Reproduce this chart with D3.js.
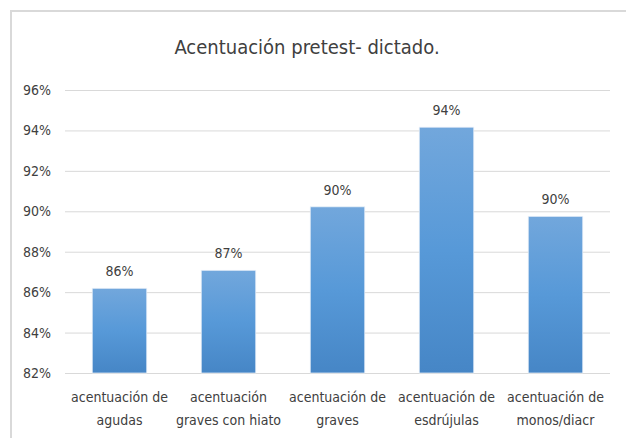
<!DOCTYPE html>
<html>
<head>
<meta charset="utf-8">
<script src="https://cdn.jsdelivr.net/npm/d3@7"></script>
<style>
  body { margin: 0; background: #fff; }
  svg text { font-family: "Liberation Sans Narrow", "DejaVu Sans Condensed", "Noto Sans", sans-serif; fill: #404040; }
</style>
</head>
<body>
<svg id="chart" width="626" height="438"></svg>
<script>
const categories = [
  ["acentuación de", "agudas"],
  ["acentuación", "graves con hiato"],
  ["acentuación de", "graves"],
  ["acentuación de", "esdrújulas"],
  ["acentuación de", "monos/diacr"]
];
const values = [0.8619, 0.8708, 0.9022, 0.9416, 0.8975];
const valueLabels = ["86%", "87%", "90%", "94%", "90%"];
const yTicks = [0.82, 0.84, 0.86, 0.88, 0.90, 0.92, 0.94, 0.96];
const title = "Acentuación pretest- dictado.";

const svg = d3.select("#chart");
const margin = { left: 65, right: 16, top: 90, bottom: 65 };
const width = 626, height = 438;

// frame
svg.append("rect")
  .attr("x", 11).attr("y", 11)
  .attr("width", 630).attr("height", 440)
  .attr("fill", "#fff")
  .attr("stroke", "#d9d9d9")
  .attr("stroke-width", 2);

const x = d3.scaleBand()
  .domain(d3.range(categories.length))
  .range([margin.left, width - margin.right])
  .paddingInner(0.5)
  .paddingOuter(0.25);

const y = d3.scaleLinear()
  .domain([0.82, 0.96])
  .range([373, 90]);

const defs = svg.append("defs");
const grad = defs.append("linearGradient")
  .attr("id", "barGrad")
  .attr("x1", 0).attr("y1", 0).attr("x2", 0).attr("y2", 1);
grad.append("stop").attr("offset", "0%").attr("stop-color", "#72a7dc");
grad.append("stop").attr("offset", "50%").attr("stop-color", "#5799d8");
grad.append("stop").attr("offset", "100%").attr("stop-color", "#4686c6");

// gridlines + y labels
const yAxis = d3.axisLeft(y)
  .tickValues(yTicks)
  .tickSize(-(width - margin.right - margin.left))
  .tickPadding(14)
  .tickFormat(d3.format(".0%"));

svg.append("g")
  .attr("transform", `translate(${margin.left},0)`)
  .call(yAxis)
  .call(g => g.select(".domain").remove())
  .call(g => g.selectAll(".tick line").attr("stroke", "#d9d9d9").attr("stroke-width", 1))
  .call(g => g.selectAll(".tick text")
    .attr("font-size", 14)
    .attr("fill", "#404040")
    .attr("font-family", "\"Liberation Sans Narrow\", \"DejaVu Sans Condensed\", sans-serif"));

// bars
svg.append("g")
  .selectAll("rect")
  .data(values)
  .join("rect")
  .attr("x", (d, i) => x(i))
  .attr("y", d => y(d))
  .attr("width", x.bandwidth())
  .attr("height", d => y(0.82) - y(d))
  .attr("fill", "url(#barGrad)")
  .attr("stroke", "#e6eef8")
  .attr("stroke-width", 0.75);

// value labels
svg.append("g")
  .selectAll("text")
  .data(values)
  .join("text")
  .attr("x", (d, i) => x(i) + x.bandwidth() / 2)
  .attr("y", d => y(d) - 12)
  .attr("text-anchor", "middle")
  .attr("font-size", 14)
  .text((d, i) => valueLabels[i]);

// category labels
const cat = svg.append("g")
  .selectAll("text")
  .data(categories)
  .join("text")
  .attr("x", (d, i) => x(i) + x.bandwidth() / 2)
  .attr("y", 402)
  .attr("text-anchor", "middle")
  .attr("font-size", 14);
cat.selectAll("tspan")
  .data(d => d)
  .join("tspan")
  .attr("x", function() { return this.parentNode.getAttribute("x"); })
  .attr("dy", (d, i) => i === 0 ? 0 : 23)
  .text(d => d);

// title
svg.append("text")
  .attr("x", 307)
  .attr("y", 54)
  .attr("text-anchor", "middle")
  .attr("font-size", 20)
  .attr("fill", "#1a1a1a")
  .text(title);
</script>
</body>
</html>
